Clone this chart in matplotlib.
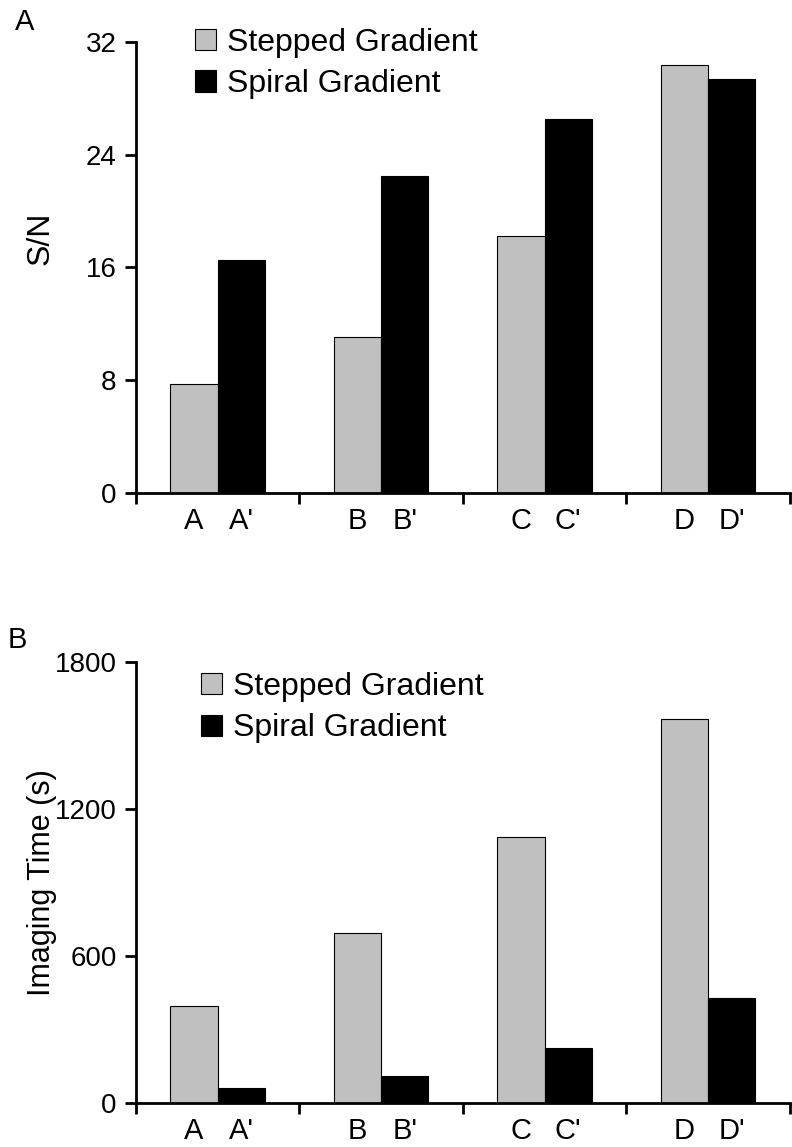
import numpy as np
import matplotlib.pyplot as plt

plt.rcParams['font.family'] = ['Liberation Sans', 'DejaVu Sans']

groups = ['A', 'B', 'C', 'D']
series_names = ['Stepped Gradient', 'Spiral Gradient']
sn_stepped = [7.7, 11.1, 18.2, 30.4]
sn_spiral = [16.5, 22.5, 26.5, 29.4]
time_stepped = [396, 694, 1086, 1567]
time_spiral = [61, 110, 224, 428]

gray = '#c0c0c0'
width = 0.29


def draw_panel(ax, stepped, spiral, ymax, yticks, ylabel, ylabel_size, ylabel_pos, legend_anchor):
    x = np.arange(len(groups)) + 0.5
    ax.bar(x - width / 2, stepped, width, color=gray, edgecolor='black', linewidth=0.8,
           label=series_names[0])
    ax.bar(x + width / 2, spiral, width, color='black', edgecolor='black', linewidth=0.8,
           label=series_names[1])
    ax.set_xlim(0, len(groups))
    ax.set_ylim(0, ymax)
    ax.set_yticks(yticks)
    ax.spines['top'].set_visible(False)
    ax.spines['right'].set_visible(False)
    ax.spines['left'].set_linewidth(2)
    ax.spines['bottom'].set_linewidth(2)
    ax.tick_params(axis='y', direction='out', length=8, width=2, labelsize=20, pad=6)
    # labels under each bar, tick marks only at group boundaries
    centers = np.ravel(np.column_stack([x - width / 2, x + width / 2]))
    labels = [l for g in groups for l in (g, g + "'")]
    ax.set_xticks(centers)
    ax.set_xticklabels(labels)
    ax.tick_params(axis='x', which='major', length=0, labelsize=21, pad=10)
    ax.set_xticks(np.arange(len(groups) + 1), minor=True)
    ax.tick_params(axis='x', which='minor', direction='out', length=8, width=2)
    ax.set_ylabel(ylabel, fontsize=ylabel_size)
    ax.yaxis.set_label_coords(*ylabel_pos)
    ax.legend(loc='upper left', bbox_to_anchor=legend_anchor, frameon=False,
              fontsize=23, handlelength=0.65, handleheight=0.65,
              handletextpad=0.35, labelspacing=0.37, borderaxespad=0, borderpad=0)


fig = plt.figure(figsize=(7.92, 11.47), dpi=100)
ax1 = fig.add_axes([0.1717, 0.5702, 0.8253, 0.3932])
ax2 = fig.add_axes([0.1717, 0.0384, 0.8253, 0.3845])

draw_panel(ax1, sn_stepped, sn_spiral, 32, [0, 8, 16, 24, 32], 'S/N', 23,
           (-0.123, 0.565), (0.09, 1.032))
draw_panel(ax2, time_stepped, time_spiral, 1800, [0, 600, 1200, 1800], 'Imaging Time (s)', 22,
           (-0.121, 0.5), (0.1, 0.978))

fig.text(15 / 792, 1 - 22 / 1147, 'A', fontsize=21, va='center', ha='left')
fig.text(8 / 792, 1 - 640 / 1147, 'B', fontsize=21, va='center', ha='left')

fig.savefig('out.png', dpi=100)
